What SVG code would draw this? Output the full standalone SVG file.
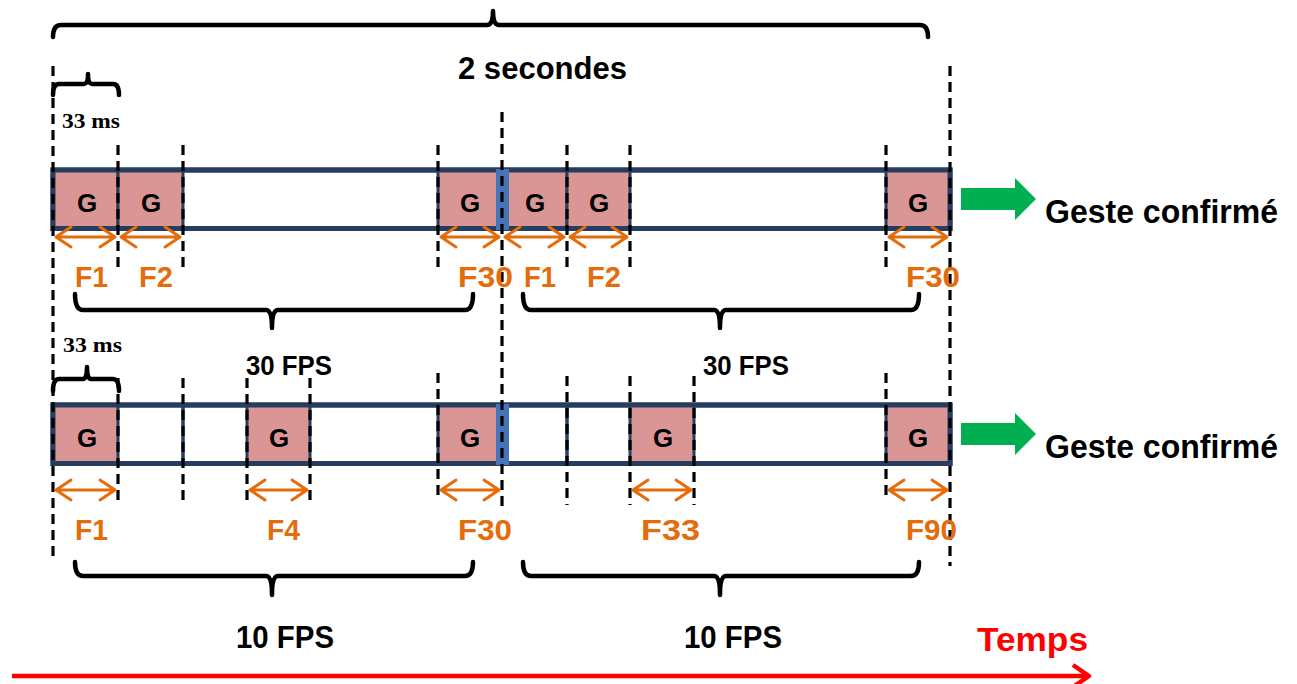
<svg xmlns="http://www.w3.org/2000/svg" width="1297" height="684" viewBox="0 0 1297 684">
<defs>
<style>
.bar{fill:#ffffff;stroke:#263D5F;stroke-width:5}
.cell{fill:#D99694;stroke:#263D5F;stroke-width:3}
.sep{stroke:#263D5F;stroke-width:3.5}
.blue{fill:#4674B9}
.dash{stroke:#000;stroke-width:3.2;stroke-dasharray:10 6;fill:none}
.brace{fill:none;stroke:#000;stroke-width:4.5;stroke-linejoin:round;stroke-linecap:round}
.oarr{fill:none;stroke:#E46C0A;stroke-width:3;stroke-linecap:round;stroke-linejoin:round}
.g{font-family:"Liberation Sans",Arial,sans-serif;font-weight:bold;font-size:26px;fill:#000;text-anchor:middle}
.f{font-family:"Liberation Sans",Arial,sans-serif;font-weight:bold;font-size:30px;fill:#E46C0A}
.b{font-family:"Liberation Sans",Arial,sans-serif;font-weight:bold;fill:#000}
.ms{font-family:"Liberation Serif","Times New Roman",serif;font-weight:bold;font-size:21px;fill:#000}
.green{fill:#00B050}
</style>
</defs>
<rect width="1297" height="684" fill="#ffffff"/>

<!-- Row 1 -->
<g id="row1">
<rect class="bar" x="53" y="170" width="897" height="58.5"/>
<rect class="cell" x="53" y="170" width="65" height="58.5"/>
<rect class="cell" x="118" y="170" width="65" height="58.5"/>
<rect class="cell" x="438" y="170" width="64" height="58.5"/>
<rect class="cell" x="502" y="170" width="65" height="58.5"/>
<rect class="cell" x="567" y="170" width="63" height="58.5"/>
<rect class="cell" x="886" y="170" width="64" height="58.5"/>
<rect class="bar" x="53" y="170" width="897" height="58.5" style="fill:none"/>
<rect class="blue" x="496" y="169" width="13" height="61"/>
<text class="g" x="87" y="212">G</text>
<text class="g" x="151" y="212">G</text>
<text class="g" x="470" y="212">G</text>
<text class="g" x="535" y="212">G</text>
<text class="g" x="599" y="212">G</text>
<text class="g" x="918" y="212">G</text>
</g>

<!-- Row 2 -->
<g id="row2">
<rect class="bar" x="53" y="405" width="897" height="58.5"/>
<line class="sep" x1="183" y1="405" x2="183" y2="463.5"/>
<line class="sep" x1="567" y1="405" x2="567" y2="463.5"/>
<rect class="cell" x="53" y="405" width="65" height="58.5"/>
<rect class="cell" x="247" y="405" width="63" height="58.5"/>
<rect class="cell" x="438" y="405" width="64" height="58.5"/>
<rect class="cell" x="630" y="405" width="64" height="58.5"/>
<rect class="cell" x="886" y="405" width="64" height="58.5"/>
<rect class="bar" x="53" y="405" width="897" height="58.5" style="fill:none"/>
<rect class="blue" x="496" y="404" width="13" height="61"/>
<text class="g" x="87" y="447">G</text>
<text class="g" x="279" y="447">G</text>
<text class="g" x="470" y="447">G</text>
<text class="g" x="663" y="447">G</text>
<text class="g" x="918" y="447">G</text>
</g>

<!-- Dashed guide lines -->
<g id="guides">
<line class="dash" x1="53" y1="66" x2="53" y2="556"/>
<line class="dash" x1="950" y1="66" x2="950" y2="566"/>
<line class="dash" x1="502" y1="112" x2="502" y2="507"/>
<line class="dash" x1="118" y1="145" x2="118" y2="270"/>
<line class="dash" x1="183" y1="145" x2="183" y2="270"/>
<line class="dash" x1="438" y1="145" x2="438" y2="270"/>
<line class="dash" x1="567" y1="145" x2="567" y2="270"/>
<line class="dash" x1="630" y1="145" x2="630" y2="270"/>
<line class="dash" x1="886" y1="145" x2="886" y2="270"/>
<line class="dash" x1="118" y1="378" x2="118" y2="505"/>
<line class="dash" x1="183" y1="378" x2="183" y2="505"/>
<line class="dash" x1="247" y1="378" x2="247" y2="505"/>
<line class="dash" x1="310" y1="378" x2="310" y2="505"/>
<line class="dash" x1="438" y1="373" x2="438" y2="497"/>
<line class="dash" x1="567" y1="376" x2="567" y2="505"/>
<line class="dash" x1="630" y1="376" x2="630" y2="505"/>
<line class="dash" x1="694" y1="376" x2="694" y2="505"/>
<line class="dash" x1="886" y1="373" x2="886" y2="497"/>
</g>

<!-- Braces -->
<g id="braces">
<path class="brace" d="M53,37 Q53,25 61,25 H487 Q493,25 493,11 Q493,25 499,25 H920 Q928,25 928,37"/>
<path class="brace" d="M53,95 Q53,84 59,84 H84 Q88,84 88,74 Q88,84 92,84 H113 Q119,84 119,95"/>
<path class="brace" d="M53,391 Q53,379 59,379 H83 Q87,379 87,367 Q87,379 91,379 H113 Q119,379 119,391"/>
<path class="brace" d="M75,294 Q75,310 83,310 H266 Q272,310 272,328 Q272,310 278,310 H465 Q473,310 473,294"/>
<path class="brace" d="M523,294 Q523,310 531,310 H714 Q720,310 720,328 Q720,310 726,310 H911 Q919,310 919,294"/>
<path class="brace" d="M75,562 Q75,576 83,576 H266 Q272,576 272,595 Q272,576 278,576 H465 Q473,576 473,562"/>
<path class="brace" d="M523,562 Q523,576 531,576 H714 Q720,576 720,595 Q720,576 726,576 H911 Q919,576 919,562"/>
</g>

<!-- Connectors: frame arrows, result arrows, time axis -->
<g id="connectors">
<path class="oarr" d="M71,227 L56,237 L71,247 M56,237 H115 M100,227 L115,237 L100,247"/>
<path class="oarr" d="M136,227 L121,237 L136,247 M121,237 H180 M165,227 L180,237 L165,247"/>
<path class="oarr" d="M456,227 L441,237 L456,247 M441,237 H499 M484,227 L499,237 L484,247"/>
<path class="oarr" d="M520,227 L505,237 L520,247 M505,237 H564 M549,227 L564,237 L549,247"/>
<path class="oarr" d="M585,227 L570,237 L585,247 M570,237 H627 M612,227 L627,237 L612,247"/>
<path class="oarr" d="M904,227 L889,237 L904,247 M889,237 H947 M932,227 L947,237 L932,247"/>

<path class="oarr" d="M71,480 L56,490 L71,500 M56,490 H115 M100,480 L115,490 L100,500"/>
<path class="oarr" d="M265,480 L250,490 L265,500 M250,490 H307 M292,480 L307,490 L292,500"/>
<path class="oarr" d="M456,480 L441,490 L456,500 M441,490 H499 M484,480 L499,490 L484,500"/>
<path class="oarr" d="M648,480 L633,490 L648,500 M633,490 H691 M676,480 L691,490 L676,500"/>
<path class="oarr" d="M904,480 L889,490 L904,500 M889,490 H947 M932,480 L947,490 L932,500"/>

<polygon class="green" points="961,188 1015,188 1015,178 1036,199 1015,220 1015,210 961,210"/>
<polygon class="green" points="961,423 1015,423 1015,413 1036,434 1015,455 1015,445 961,445"/>

<path d="M12,676 H1088 M1073,665 L1089,676 L1073,687" fill="none" stroke="#FF0000" stroke-width="4.5" stroke-linejoin="round"/>
</g>

<!-- Labels -->
<g id="labels">
<text class="b" x="458" y="79" font-size="32" textLength="169" lengthAdjust="spacingAndGlyphs">2 secondes</text>
<text class="ms" x="62" y="128" textLength="58" lengthAdjust="spacingAndGlyphs">33 ms</text>
<text class="ms" x="63" y="352" textLength="59" lengthAdjust="spacingAndGlyphs">33 ms</text>

<text class="f" x="75" y="287" textLength="33" lengthAdjust="spacingAndGlyphs">F1</text>
<text class="f" x="139" y="287" textLength="34" lengthAdjust="spacingAndGlyphs">F2</text>
<text class="f" x="458" y="287" textLength="55" lengthAdjust="spacingAndGlyphs">F30</text>
<text class="f" x="524" y="287" textLength="32" lengthAdjust="spacingAndGlyphs">F1</text>
<text class="f" x="587" y="287" textLength="34" lengthAdjust="spacingAndGlyphs">F2</text>
<text class="f" x="906" y="287" textLength="54" lengthAdjust="spacingAndGlyphs">F30</text>

<text class="b" x="246" y="375" font-size="28" textLength="86" lengthAdjust="spacingAndGlyphs">30 FPS</text>
<text class="b" x="703" y="375" font-size="28" textLength="86" lengthAdjust="spacingAndGlyphs">30 FPS</text>

<text class="f" x="75" y="540" textLength="33" lengthAdjust="spacingAndGlyphs">F1</text>
<text class="f" x="267" y="540" textLength="33" lengthAdjust="spacingAndGlyphs">F4</text>
<text class="f" x="458" y="540" textLength="54" lengthAdjust="spacingAndGlyphs">F30</text>
<text class="f" x="641" y="540" textLength="59" lengthAdjust="spacingAndGlyphs">F33</text>
<text class="f" x="906" y="540" textLength="51" lengthAdjust="spacingAndGlyphs">F90</text>

<text class="b" x="236" y="648" font-size="31" textLength="98" lengthAdjust="spacingAndGlyphs">10 FPS</text>
<text class="b" x="684" y="648" font-size="31" textLength="98" lengthAdjust="spacingAndGlyphs">10 FPS</text>

<text class="b" x="977" y="651" font-size="34" style="fill:#FF0000" textLength="111" lengthAdjust="spacingAndGlyphs">Temps</text>

<text class="b" x="1045" y="223" font-size="33" textLength="233" lengthAdjust="spacingAndGlyphs">Geste confirmé</text>
<text class="b" x="1045" y="458" font-size="33" textLength="233" lengthAdjust="spacingAndGlyphs">Geste confirmé</text>
</g>
</svg>
